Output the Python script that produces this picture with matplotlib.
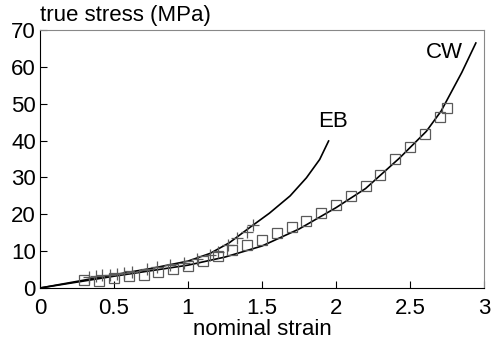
import matplotlib
matplotlib.use("Agg")
import matplotlib.pyplot as plt

# model curves
cw_x = [0, 0.25, 0.5, 0.75, 1.0, 1.25, 1.5, 1.75, 2.0, 2.2, 2.43, 2.61, 2.71, 2.85, 2.945]
cw_y = [0, 1.6, 3.2, 4.7, 6.2, 8.4, 11.4, 16.0, 21.8, 27.0, 35.3, 42.5, 48.0, 58.5, 66.5]
eb_x = [0, 0.25, 0.5, 0.75, 1.0, 1.15, 1.28, 1.42, 1.55, 1.69, 1.80, 1.89, 1.95]
eb_y = [0, 1.8, 3.6, 5.3, 7.3, 9.4, 12.3, 16.5, 20.3, 25.0, 29.9, 34.9, 39.9]

# experimental points
sq_x = [0.3, 0.4, 0.5, 0.6, 0.7, 0.8, 0.9, 1.0, 1.1, 1.2, 1.3, 1.4, 1.5, 1.6,
        1.7, 1.8, 1.9, 2.0, 2.1, 2.2, 2.3, 2.4, 2.5, 2.6, 2.7, 2.75]
sq_y = [2.2, 2.0, 2.7, 3.3, 3.6, 4.3, 5.1, 6.1, 7.4, 8.6, 10.3, 11.7, 12.9, 14.9,
        16.5, 18.3, 20.4, 22.6, 24.9, 27.8, 30.8, 35.0, 38.3, 41.8, 46.3, 48.8]
cr_x = [0.33, 0.38, 0.42, 0.47, 0.52, 0.57, 0.62, 0.72, 0.79, 0.88, 0.97, 1.06,
        1.15, 1.20, 1.27, 1.33, 1.40, 1.44]
cr_y = [3.1, 3.3, 3.5, 3.6, 3.8, 4.0, 4.4, 5.1, 5.8, 6.3, 6.8, 7.9,
        9.0, 9.9, 11.7, 13.5, 15.3, 17.1]

plt.rcParams['font.family'] = ['Liberation Sans', 'DejaVu Sans']

fig = plt.figure(figsize=(4.92, 3.46), dpi=100)
ax = fig.add_axes([0.0813, 0.1676, 0.9024, 0.7454])

ax.plot(cw_x, cw_y, color='black', lw=1.2)
ax.plot(eb_x, eb_y, color='black', lw=1.2)
ax.plot(sq_x, sq_y, 's', mfc='none', mec='#5a5a5a', ms=7, mew=0.9)
ax.plot(cr_x, cr_y, '+', color='#5a5a5a', ms=9, mew=0.9)

ax.text(1.98, 45.2, 'EB', fontsize=16, ha='center', va='center')
ax.text(2.73, 63.9, 'CW', fontsize=16, ha='center', va='center')

ax.set_xlim(0, 3)
ax.set_ylim(0, 70)
ax.set_xticks([0, 0.5, 1, 1.5, 2, 2.5, 3])
ax.set_xticklabels(['0', '0.5', '1', '1.5', '2', '2.5', '3'])
ax.set_yticks(range(0, 71, 10))
ax.tick_params(direction='in', length=5, labelsize=16, width=0.8)
ax.tick_params(axis='x', pad=7)
ax.tick_params(axis='y', pad=3)
for s in ['top', 'right']:
    ax.spines[s].set_color('#888888')
ax.set_xlabel('nominal strain', fontsize=16, labelpad=0)
fig.text(0.0813, 0.925, 'true stress (MPa)', fontsize=16, ha='left', va='bottom')

plt.savefig('out.png', dpi=100)
plt.close()
